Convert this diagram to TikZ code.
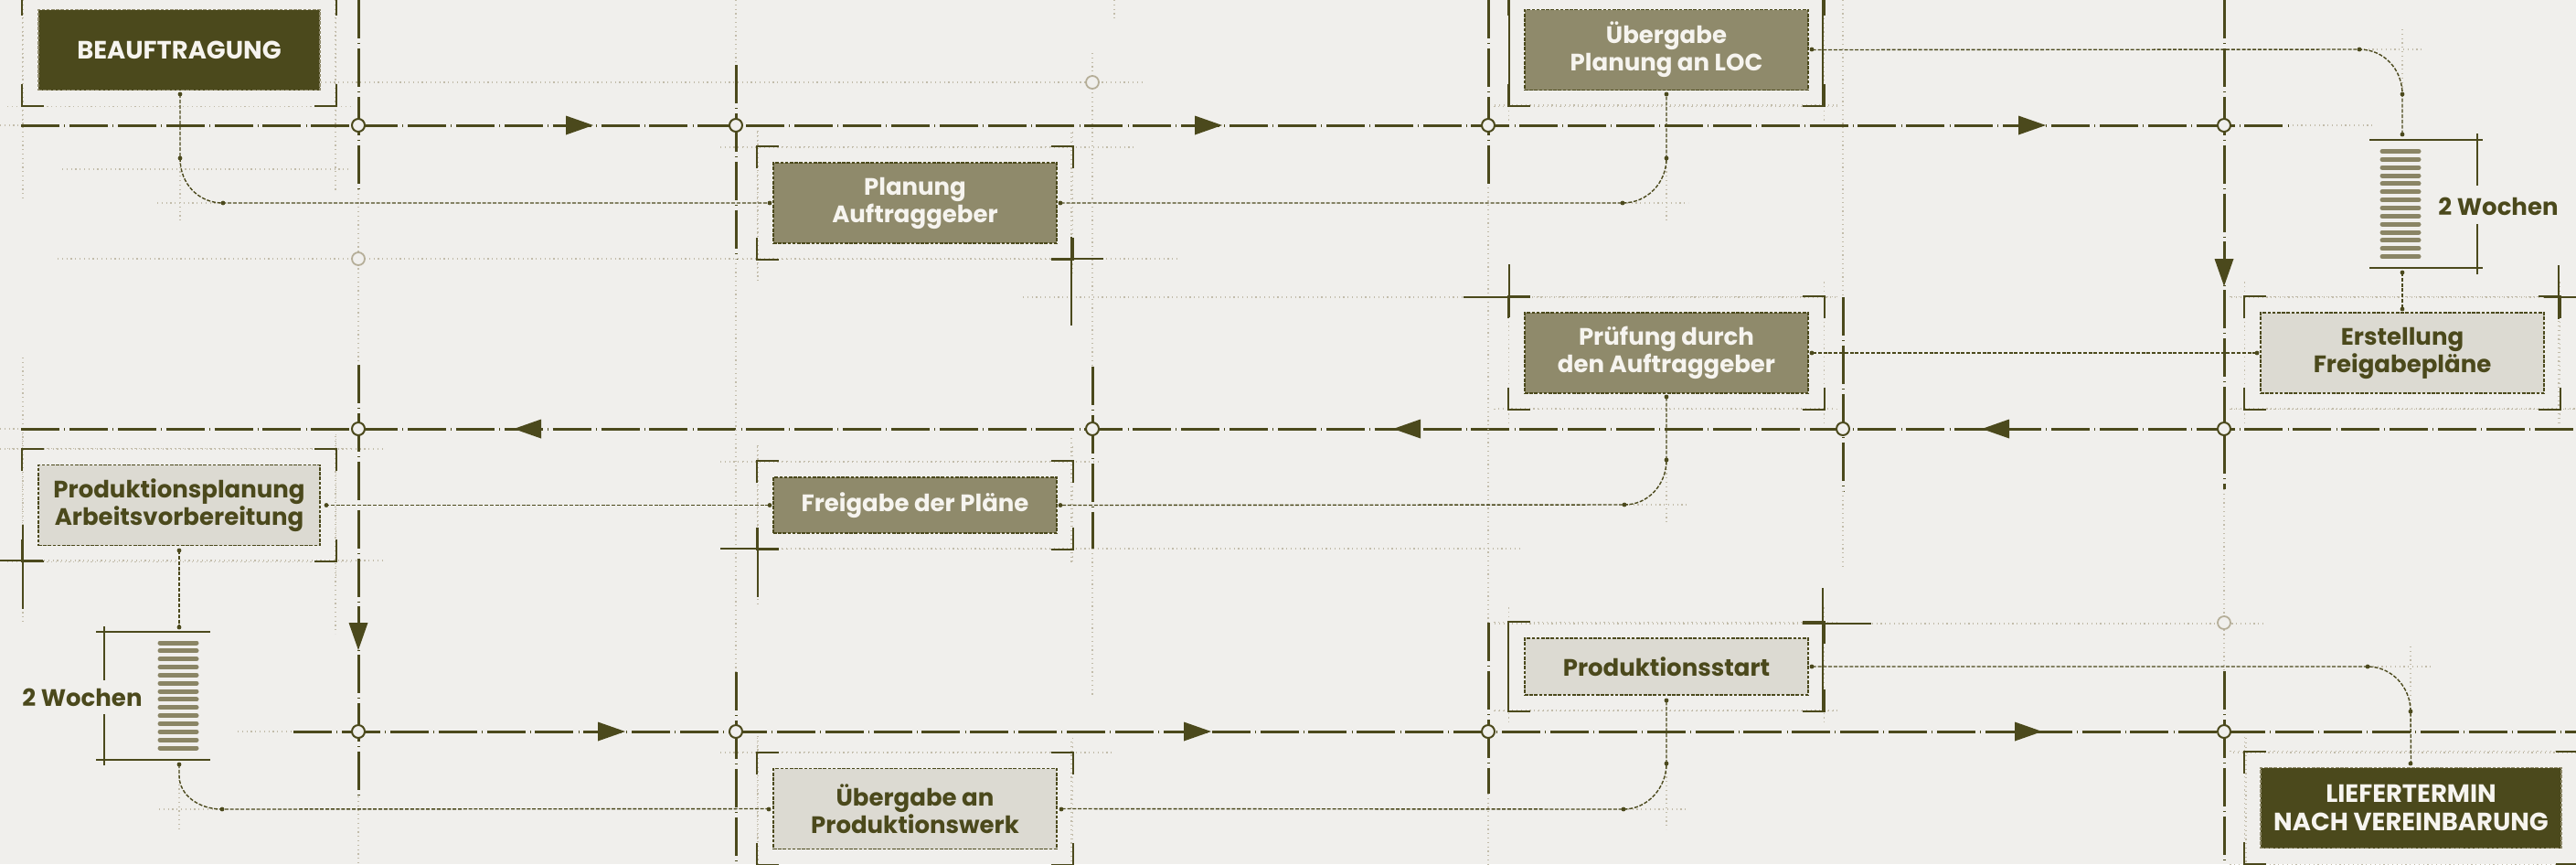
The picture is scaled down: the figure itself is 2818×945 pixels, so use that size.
\documentclass[tikz,border=0pt]{standalone}
\usepackage{fontspec}
\setmainfont{Poppins}
\usetikzlibrary{calc}
\definecolor{paper}{HTML}{F0EFEC}
\definecolor{olive}{HTML}{4B491C}
\definecolor{midol}{HTML}{8F8A6B}
\definecolor{lightfill}{HTML}{DCDAD2}
\definecolor{guidec}{HTML}{C2BCAA}
\definecolor{ghostc}{HTML}{B5AE98}
\definecolor{textw}{HTML}{F6F4EF}
\definecolor{barc}{HTML}{8A8565}
\tikzset{
  mainline/.style={draw=olive, line width=0.75pt, dash pattern=on 10.5pt off 1.3pt on 0.12pt off 1.3pt},
  guide/.style={draw=guidec, line width=0.3pt, dash pattern=on 0.3pt off 0.9pt},
  conn/.style={draw=olive, line width=0.35pt, dash pattern=on 1pt off 0.45pt},
  bracketline/.style={draw=olive, line width=0.5pt},
  crossline/.style={draw=olive, line width=0.38pt},
  barstroke/.style={draw=barc, line width=1.25pt, line cap=round},
  dimline/.style={draw=olive, line width=0.35pt},
  dimtext/.style={font=\bfseries\fontsize{6.5pt}{7.5pt}\selectfont, text=olive, inner sep=0pt},
  boxbase/.style={inner sep=0pt, align=center, font=\bfseries\fontsize{6.5pt}{7.5pt}\selectfont,
    draw=olive, line width=0.35pt, dash pattern=on 0.9pt off 0.4pt,
    minimum width=77.5pt, minimum height=22pt},
  darkbox/.style={boxbase, fill=olive, text=textw, draw=midol, font=\bfseries\fontsize{6.85pt}{7.6pt}\selectfont},
  midbox/.style={boxbase, fill=midol, text=textw},
  lightbox/.style={boxbase, fill=lightfill, text=olive},
}
\newcommand\cd[2]{\fill[olive] (#1,#2) circle[radius=2.4];}
\newcommand\jc[2]{\filldraw[fill=paper,draw=olive,line width=0.5pt] (#1,#2) circle[radius=7];}
\newcommand\gc[2]{\filldraw[fill=paper,draw=ghostc,line width=0.45pt] (#1,#2) circle[radius=7];}
\newcommand\arrR[2]{\fill[olive] (#1,#2) -- ++(-30,-10.5) -- ++(0,21) -- cycle;}
\newcommand\arrL[2]{\fill[olive] (#1,#2) -- ++(30,-10.5) -- ++(0,21) -- cycle;}
\newcommand\arrD[2]{\fill[olive] (#1,#2) -- ++(-10.5,-30) -- ++(21,0) -- cycle;}
\newcommand\bracketbox[1]{%
  \coordinate (#1tl) at ($(#1.north west)+(-17,-17)$);
  \coordinate (#1br) at ($(#1.south east)+(17,17)$);
  \coordinate (#1tr) at (#1br |- #1tl);
  \coordinate (#1bl) at (#1tl |- #1br);
  \draw[guide] ($(#1tl)+(-16,0)$) -- ($(#1tr)+(16,0)$) ($(#1bl)+(-16,0)$) -- ($(#1br)+(16,0)$)
     ($(#1tl)+(0,-16)$) -- ($(#1bl)+(0,16)$) ($(#1tr)+(0,-16)$) -- ($(#1br)+(0,16)$);
  \draw[bracketline] ($(#1tl)+(0,24)$) -- (#1tl) -- ($(#1tl)+(24,0)$)
     ($(#1tr)+(0,24)$) -- (#1tr) -- ($(#1tr)+(-24,0)$)
     ($(#1bl)+(0,-24)$) -- (#1bl) -- ($(#1bl)+(24,0)$)
     ($(#1br)+(0,-24)$) -- (#1br) -- ($(#1br)+(-24,0)$);
}
\newcommand\timebars[3]{% x left, x right, first y
  \foreach \k in {0,...,13} {\draw[barstroke] (#1,#3+\k*8.85) -- (#2,#3+\k*8.85);}
}
\begin{document}
\begin{tikzpicture}[x=0.25pt,y=-0.25pt]
\fill[paper] (0,0) rectangle (2818,945);
\useasboundingbox (0,0) rectangle (2818,945);

% ---------- faint construction lines ----------
\draw[guide] (0,137) -- (23,137) (2503,137) -- (2597,137) (0,469) -- (23,469) (260,800) -- (321,800);
\draw[guide] (351,90) -- (1249,90) (68,185) -- (383,185) (63,283) -- (1291,283) (788,161) -- (1243,161)
  (1119,325) -- (2008,325) (2441,325) -- (2818,325) (1639,447) -- (2008,447) (2441,447) -- (2818,447)
  (0,491) -- (421,491) (788,505) -- (1205,505) (788,600) -- (1666,600) (0,613) -- (421,613)
  (1635,682) -- (2476,682) (1635,777) -- (2010,777) (788,823) -- (1216,823) (2443,823) -- (2818,823)
  (1635,115) -- (2010,115);
\draw[guide] (25,0) -- (25,220) (25,391) -- (25,680) (367,0) -- (367,208) (367,477) -- (367,693)
  (829,143) -- (829,308) (829,487) -- (829,660) (829,805) -- (829,945)
  (1172,145) -- (1172,356) (1172,479) -- (1172,618) (1172,811) -- (1172,945)
  (1219,0) -- (1219,22) (2457,807) -- (2457,945) (2799,308) -- (2799,465);
% corner guides of the connectors
\draw[guide] (172,222) -- (244,222) (197,173) -- (197,243)
  (1775,222) -- (1847,222) (1823,173) -- (1823,243)
  (2581,54) -- (2652,54) (2628,32) -- (2628,103)
  (1777,552) -- (1846,552) (1823,503) -- (1823,574)
  (174,885) -- (243,885) (196,848) -- (196,907)
  (1776,885) -- (1847,885) (1823,835) -- (1823,907)
  (2591,729) -- (2662,729) (2637,707) -- (2637,778);

% ---------- main flow lines ----------
\draw[mainline] (23,137) -- (2503,137);
\draw[mainline] (23,469) -- (2818,469);
\draw[mainline] (321,800) -- (2818,800);
% verticals
\draw[mainline] (392,0) -- (392,207) (392,399) -- (392,871);
\draw[guide] (392,207) -- (392,399) (392,871) -- (392,945);
\draw[mainline] (805,71) -- (805,283) (805,735) -- (805,945);
\draw[guide] (805,0) -- (805,71) (805,283) -- (805,735);
\draw[mainline] (1195,401) -- (1195,600);
\draw[guide] (1195,58) -- (1195,401) (1195,600) -- (1195,762);
\draw[mainline] (1628,0) -- (1628,205) (1628,681) -- (1628,868);
\draw[guide] (1628,205) -- (1628,681) (1628,868) -- (1628,945);
\draw[mainline] (2016,325) -- (2016,537);
\draw[guide] (2016,0) -- (2016,325) (2016,537) -- (2016,622);
\draw[mainline] (2433,0) -- (2433,535) (2433,734) -- (2433,945);
\draw[guide] (2433,535) -- (2433,734);

% ---------- boxes ----------
\node[darkbox, minimum width=77pt] (beauf) at (196,54.5) {BEAUFTRAGUNG};
\node[midbox] (loc) at (1823,54.5) {Übergabe\\Planung an LOC};
\node[midbox] (plan) at (1001,222) {Planung\\Auftraggeber};
\node[midbox] (pruef) at (1823,386) {Prüfung durch\\den Auftraggeber};
\node[lightbox] (erst) at (2628,386) {Erstellung\\Freigabepläne};
\node[lightbox, minimum width=77pt] (prodpl) at (196,552.5) {Produktionsplanung\\Arbeitsvorbereitung};
\node[midbox, minimum height=15.25pt] (freig) at (1001,552.5) {Freigabe der Pläne};
\node[lightbox, minimum height=15.5pt] (pstart) at (1823,729) {Produktionsstart};
\node[lightbox] (uebpw) at (1001,884.5) {Übergabe an\\Produktionswerk};
\node[darkbox, minimum width=82.25pt] (liefer) at (2637.5,883.5) {LIEFERTERMIN\\NACH VEREINBARUNG};

\bracketbox{beauf}\bracketbox{loc}\bracketbox{plan}\bracketbox{pruef}\bracketbox{erst}
\bracketbox{prodpl}\bracketbox{freig}\bracketbox{pstart}\bracketbox{uebpw}\bracketbox{liefer}

% crosshairs and extended bracket sides
\draw[crossline] (1150,283) -- (1207,283) (1172,259) -- (1172,356);
\draw[crossline] (1601,325) -- (1674,325) (1651,289) -- (1651,347);
\draw[crossline] (0,613) -- (47,613) (25,574) -- (25,666);
\draw[crossline] (788,600) -- (852,600) (829,577) -- (829,653);
\draw[crossline] (1972,682) -- (2047,682) (1994,643) -- (1994,777);
\draw[crossline] (2783,325) -- (2818,325) (2799,290) -- (2799,349);
\draw[crossline] (1651,0) -- (1651,115) (1994,0) -- (1994,115) (1650,682) -- (1650,777);

% ---------- connectors ----------
\draw[conn] ($(beauf.south)+(1,4)$) -- (197,173) .. controls (197,201) and (217,222) .. (244,222) -- ($(plan.west)+(-4,0)$);
\cd{197}{103}\cd{197}{173}\cd{244}{222}\cd{842}{222}
\draw[conn] ($(plan.east)+(4,0)$) -- (1775,222) .. controls (1802,222) and (1823,200) .. (1823,173) -- ($(loc.south)+(0,4)$);
\cd{1160}{222}\cd{1775}{222}\cd{1823}{173}\cd{1823}{103}
\draw[conn] ($(loc.east)+(4,0)$) -- (2581,54) .. controls (2608,54) and (2628,76) .. (2628,103) -- (2628,147);
\cd{1982}{54}\cd{2581}{54}\cd{2628}{103}\cd{2628}{147}
\draw[conn] (2628,298) -- ($(erst.north)+(0,-4)$);
\cd{2628}{298}\cd{2628}{338}
\draw[conn] ($(erst.west)+(-4,0)$) -- ($(pruef.east)+(4,0)$);
\cd{2469}{386}\cd{1982}{386}
\draw[conn] ($(pruef.south)+(0,4)$) -- (1823,503) .. controls (1823,530) and (1803,552) .. (1777,552) -- ($(freig.east)+(4,0)$);
\cd{1823}{434}\cd{1823}{503}\cd{1777}{552}\cd{1160}{552.5}
\draw[conn] ($(freig.west)+(-4,0)$) -- ($(prodpl.east)+(7,0)$);
\cd{842}{552.5}\cd{357}{552.5}
\draw[conn] ($(prodpl.south)+(0,5)$) -- (196,686);
\cd{196}{602}\cd{196}{686}
\draw[conn] (196,836) -- (196,848) .. controls (196,870) and (218,885) .. (243,885) -- ($(uebpw.west)+(-5,0)$);
\cd{196}{836}\cd{243}{885}\cd{841}{885}
\draw[conn] ($(uebpw.east)+(5,0)$) -- (1776,885) .. controls (1802,885) and (1823,862) .. (1823,835) -- ($(pstart.south)+(0,5)$);
\cd{1161}{885}\cd{1776}{885}\cd{1823}{835}\cd{1823}{766}
\draw[conn] ($(pstart.east)+(4,0)$) -- (2590,729) .. controls (2616,729) and (2637,751) .. (2637,778) -- ($(liefer.north)+(0,-4)$);
\cd{1982}{729}\cd{2590}{729}\cd{2637}{778}\cd{2637}{835}

% ---------- durations ----------
\draw[dimline] (2592,153) -- (2716,153) (2592,293) -- (2716,293) (2710,146) -- (2710,203) (2710,245) -- (2710,300);
\timebars{2606}{2646}{165.5}
\node[dimtext] (w1) at (2733,226) {2 Wochen};
\draw[dimline] (105,691) -- (230,691) (105,831) -- (230,831) (114,685) -- (114,744) (114,781) -- (114,837);
\timebars{175}{215}{703}
\node[dimtext] (w2) at (90,763) {2 Wochen};

% ---------- arrowheads ----------
\arrR{649}{137}\arrR{1337}{137}\arrR{2238}{137}
\arrL{562}{469}\arrL{1524}{469}\arrL{2168}{469}
\arrR{684}{800}\arrR{1325}{800}\arrR{2234}{800}
\arrD{392}{711}\arrD{2433}{313}

% ---------- junctions ----------
\jc{392}{137}\jc{805}{137}\jc{1628}{137}\jc{2433}{137}
\jc{392}{469}\jc{1195}{469}\jc{2016}{469}\jc{2433}{469}
\jc{392}{800}\jc{805}{800}\jc{1628}{800}\jc{2433}{800}
\gc{392}{283}\gc{1195}{90}\gc{2433}{681}
\end{tikzpicture}
\end{document}
